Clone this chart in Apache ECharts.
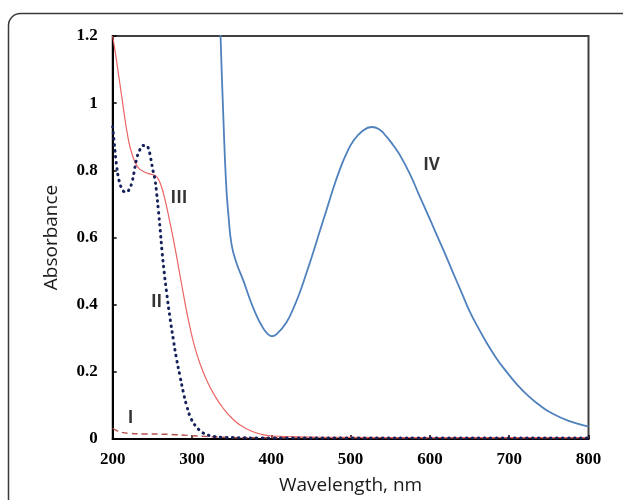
<!DOCTYPE html>
<html>
<head>
<meta charset="utf-8">
<script src="https://cdn.jsdelivr.net/npm/echarts@6/dist/echarts.min.js"></script>
<style>
html,body{margin:0;padding:0;background:#fff;}
#c{width:623px;height:500px;}
</style>
</head>
<body>
<div id="c"></div>
<script>
// Wavelength (nm) / absorbance pairs
var curveI = [[200,0.032],[205,0.025],[211,0.020],[220,0.017],[240,0.015],[270,0.014],[300,0.010],[330,0.006],[360,0.004],[400,0.004],[500,0.004],[600,0.004],[700,0.004],[800,0.004]];
var curveII = [[200,0.93],[202,0.88],[205,0.812],[208,0.77],[211,0.748],[214,0.737],[217.6,0.735],[221,0.745],[224,0.762],[227,0.795],[230,0.832],[234,0.86],[238.6,0.874],[242,0.874],[245,0.866],[247,0.848],[249,0.822],[251,0.797],[253.3,0.772],[255.5,0.73],[257.5,0.683],[260,0.62],[262,0.564],[265,0.495],[268,0.436],[272,0.365],[276.4,0.297],[280,0.245],[284.8,0.188],[289,0.14],[293.3,0.099],[299,0.06],[306,0.035],[314,0.018],[323,0.01],[340,0.005],[400,0.003],[500,0.003],[600,0.003],[700,0.003],[800,0.003]];
var curveIII = [[200,1.2],[204,1.14],[208,1.075],[212,1.01],[215,0.96],[218,0.915],[222,0.868],[228,0.825],[233,0.806],[238.6,0.797],[245,0.79],[251,0.787],[255,0.782],[258,0.772],[262,0.748],[265,0.722],[268,0.692],[273,0.636],[278.5,0.57],[283,0.512],[287,0.46],[292,0.395],[297.4,0.333],[303,0.278],[310,0.225],[318,0.178],[327,0.136],[338,0.096],[352,0.058],[368,0.031],[386,0.015],[400,0.009],[450,0.006],[500,0.005],[600,0.004],[700,0.004],[800,0.004]];
var curveIV = [[332,1.5],[336,1.2],[339.5,0.96],[343,0.76],[346,0.665],[350,0.578],[356,0.525],[365,0.47],[373,0.416],[380,0.375],[388,0.337],[395,0.314],[401,0.306],[408,0.315],[419,0.347],[428,0.39],[436,0.437],[444,0.492],[453,0.557],[461,0.618],[470,0.685],[478,0.745],[486.5,0.803],[495,0.851],[503,0.886],[515,0.917],[526.5,0.929],[536,0.922],[545,0.901],[554,0.874],[562,0.846],[575,0.788],[587,0.723],[598,0.665],[608,0.611],[619,0.552],[629,0.496],[640,0.436],[650,0.381],[661,0.331],[671,0.289],[684,0.240],[697,0.199],[710,0.162],[722,0.133],[738,0.101],[755,0.075],[776,0.053],[798,0.038],[800,0.037]];

// Curve annotations (text and data position)
var labelNames = ['I','II','III','IV'];
var labelX = [222.6, 255.3, 283.6, 602];
var labelY = [0.062, 0.407, 0.716, 0.815];

var xTicks = [200,300,400,500,600,700,800];
var yTicks = [0,0.2,0.4,0.6,0.8,1,1.2];

var chart = echarts.init(document.getElementById('c'), null, {renderer:'canvas'});
var labelData = labelNames.map(function(n,i){ return {name:n, value:[labelX[i], labelY[i]]}; });
var tickFont = {fontFamily:'Liberation Serif', fontWeight:'bold', fontSize:17, color:'#000'};

chart.setOption({
  animation:false,
  graphic:[{
    type:'rect', silent:true, z:-10,
    shape:{x:8.5, y:13.5, width:720, height:620, r:12},
    style:{fill:'none', stroke:'#3a3a3a', lineWidth:1.5}
  }],
  grid:{left:112.7, right:34.5, top:36, bottom:60, show:true, borderColor:'#404040', borderWidth:2, backgroundColor:'transparent'},
  xAxis:{
    type:'value', min:xTicks[0], max:xTicks[xTicks.length-1], interval:100,
    name:'Wavelength, nm', nameLocation:'middle', nameGap:37,
    nameTextStyle:{fontFamily:'Open Sans', fontSize:19, color:'#1a1a1a'},
    axisLine:{show:true, onZero:false, lineStyle:{color:'#000', width:2}},
    axisTick:{show:true, inside:true, length:4, lineStyle:{color:'#000', width:1.5}},
    axisLabel:Object.assign({margin:12}, tickFont),
    splitLine:{show:false}
  },
  yAxis:{
    type:'value', min:yTicks[0], max:yTicks[yTicks.length-1], interval:0.2,
    name:'Absorbance', nameLocation:'middle', nameGap:52,
    nameTextStyle:{fontFamily:'Open Sans', fontSize:19, color:'#1a1a1a'},
    axisLine:{show:true, onZero:false, lineStyle:{color:'#000', width:2}},
    axisTick:{show:true, inside:true, length:4, lineStyle:{color:'#000', width:1.5}},
    axisLabel:Object.assign({margin:15, formatter:function(v){return String(+v.toFixed(1));}}, tickFont),
    splitLine:{show:false}
  },
  series:[
    {type:'line', data:curveI, showSymbol:false, smooth:0.5, clip:true,
     lineStyle:{color:'#b5504c', width:1.5, type:[6,4]}},
    {type:'line', data:curveIII, showSymbol:false, smooth:0.5, clip:true,
     lineStyle:{color:'#ec6464', width:1.2}},
    {type:'line', data:curveII, showSymbol:false, smooth:0.5, clip:true,
     lineStyle:{color:'#14215a', width:3, type:[0.5,5.5], cap:'round'}},
    {type:'line', data:curveIV, showSymbol:false, smooth:0.5, clip:true,
     lineStyle:{color:'#4f81bd', width:1.8}},
    {type:'scatter', data:labelData, symbolSize:0, silent:true,
     label:{show:true, position:'inside', formatter:function(p){return p.name;},
            fontFamily:'Open Sans', fontWeight:'bold', fontSize:17, color:'#000'}}
  ]
});
</script>
</body>
</html>
